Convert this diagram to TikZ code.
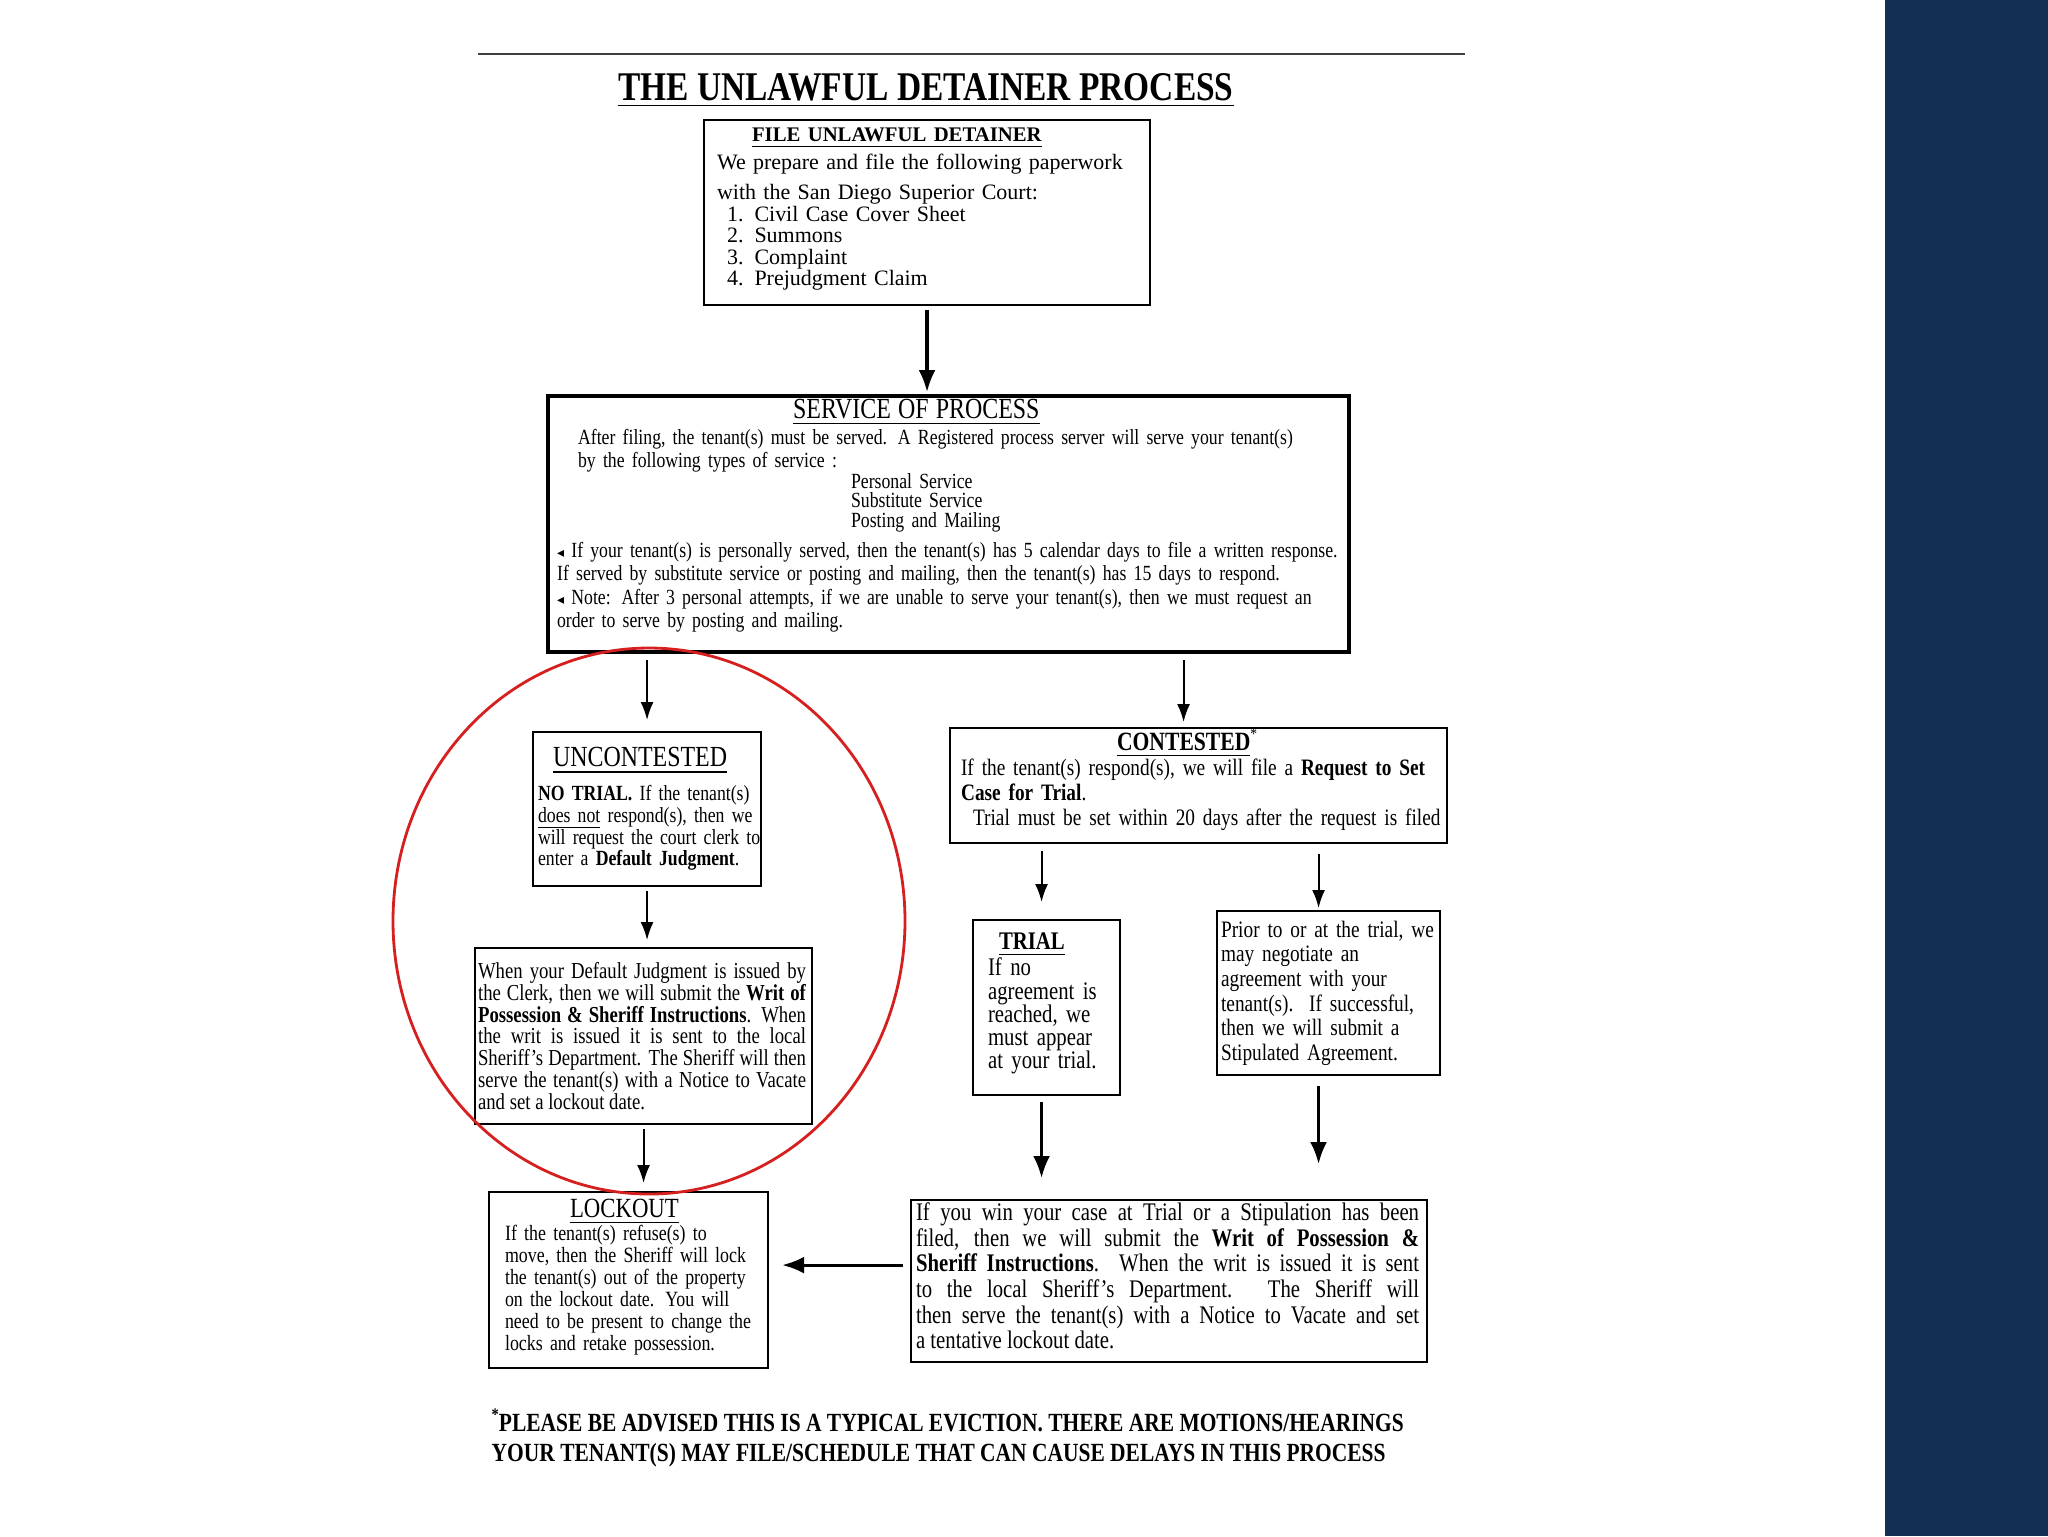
\documentclass[tikz,border=0pt]{standalone}
\usepackage{fontspec}
\setmainfont[FakeStretch=0.82]{Liberation Serif}
\newfontfamily\widefont{Liberation Serif}
\newfontfamily\symfont{DejaVu Sans}
\usetikzlibrary{positioning,arrows.meta}

\definecolor{navy}{RGB}{18,49,82}
\definecolor{circred}{RGB}{214,32,32}
\newcommand{\fsz}[2]{\fontsize{#1}{#2}\selectfont}
\newcommand{\tri}{{\symfont\fontsize{4}{4}\selectfont ◂}}

\tikzset{
  box/.style={draw, line width=0.6pt, anchor=north west, align=left, inner xsep=0pt, inner ysep=0pt},
  lpad/.style={execute at begin node={\leftskip=#1\relax\lineskiplimit=-5pt\relax}},
  lrpad/.style 2 args={execute at begin node={\leftskip=#1\relax\rightskip=#2\relax\lineskiplimit=-5pt\relax}},
  flow/.style={-{Latex[length=1.8mm,width=1.3mm]}, line width=0.55pt},
  bigflow/.style={-{Latex[length=2.2mm,width=1.7mm]}, line width=0.9pt},
}

\begin{document}
\begin{tikzpicture}[x=0.1mm,y=-0.1mm]
\fill[white] (0,0) rectangle (2048,1536);
\useasboundingbox (0,0) rectangle (2048,1536);
\fill[navy] (1885,0) rectangle (2048,1536);
\draw[line width=0.7pt, black!75] (478,54) -- (1465,54);

\node[anchor=base, inner sep=0pt, font=\fsz{11.6}{13}\bfseries] (title) at (926,100) {\underline{THE UNLAWFUL DETAINER PROCESS}};

% top of the flow
\node[box, lpad=1.3mm, minimum width=44.6mm, minimum height=18.5mm, text width=44.6mm, font=\widefont\fsz{6.25}{6.1}] (file) at (703,119) {%
\hspace*{3.5mm}\underline{\textbf{\fsz{5.9}{6.1}FILE UNLAWFUL DETAINER}}\\[0.7mm]
We prepare and file the following paperwork\\[0.85mm]
with the San Diego Superior Court:\\
\hspace*{1mm}1. Civil Case Cover Sheet\\
\hspace*{1mm}2. Summons\\
\hspace*{1mm}3. Complaint\\
\hspace*{1mm}4. Prejudgment Claim\par\kern0.7mm};

\node[box, lpad=0.9mm, line width=1.2pt, minimum width=80.1mm, minimum height=25.6mm, text width=80.1mm, font=\fsz{6.15}{6.7}] (serve) at (546,394) {%
\hspace*{23.6mm}\underline{\fsz{8.3}{6.7}SERVICE OF PROCESS}\\[0.25mm]
\hspace*{2.1mm}After filing, the tenant(s) must be served. A Registered process server will serve your tenant(s)\\
\hspace*{2.1mm}by the following types of service :\\[-0.3mm]
\hspace*{29.4mm}Personal Service\\[-0.4mm]
\hspace*{29.4mm}Substitute Service\\[-0.4mm]
\hspace*{29.4mm}Posting and Mailing\\[0.63mm]
\tri\ If your tenant(s) is personally served, then the tenant(s) has 5 calendar days to file a written response.\\
If served by substitute service or posting and mailing, then the tenant(s) has 15 days to respond.\\
\tri\ Note: After 3 personal attempts, if we are unable to serve your tenant(s), then we must request an\\
order to serve by posting and mailing.\par\kern1.7mm};

% uncontested side
\node[box, lpad=0.5mm, minimum width=22.8mm, minimum height=15.4mm, text width=22.8mm, font=\fsz{6.15}{6.2}] (unc) at (532,731) {%
\hspace*{1.5mm}\underline{\fsz{8.3}{6.2}UNCONTESTED}\\[1.2mm]
\textbf{NO TRIAL.} If the tenant(s)\\
\underline{does not} respond(s), then we\\
will request the court clerk to\\
enter a \textbf{Default Judgment}.};

\node[box, align=justify, lrpad={0.3mm}{0.6mm}, minimum width=33.7mm, minimum height=17.6mm, text width=33.7mm, font=\fsz{6.5}{6.2}] (def) at (474,947) {%
When your Default Judgment is issued by\linebreak
the Clerk, then we will submit the \textbf{Writ of}\linebreak
\textbf{Possession \& Sheriff Instructions}. When\linebreak
the writ is issued it is sent to the local\linebreak
Sheriff's Department. The Sheriff will then\linebreak
serve the tenant(s) with a Notice to Vacate\linebreak
and set a lockout date.};

\node[box, lpad=1.6mm, minimum width=27.9mm, minimum height=17.6mm, text width=27.9mm, font=\fsz{6.2}{6.3}] (lock) at (488,1191) {%
\hspace*{6.5mm}\underline{\fsz{7.9}{6.3}LOCKOUT}\\[0.1mm]
If the tenant(s) refuse(s) to\\
move, then the Sheriff will lock\\
the tenant(s) out of the property\\
on the lockout date. You will\\
need to be present to change the\\
locks and retake possession.\par\kern0.6mm};

% contested side
\node[box, lpad=1.1mm, minimum width=49.7mm, minimum height=11.5mm, text width=49.7mm, font=\fsz{6.7}{7.1}] (cont) at (949,727) {%
\hspace*{15.6mm}\underline{\fsz{7.5}{7.1}\textbf{CONTESTED}}\textsuperscript{*}\\
If the tenant(s) respond(s), we will file a \textbf{Request to Set}\\
\textbf{Case for Trial}.\\
\hspace*{1.2mm}Trial must be set within 20 days after the request is filed\par\kern1.2mm};

\node[box, lpad=1.5mm, minimum width=14.7mm, minimum height=17.5mm, text width=14.7mm, font=\fsz{7.2}{6.6}] (trial) at (972,919) {%
\hspace*{1.1mm}\underline{\textbf{TRIAL}}\\[0.3mm]
If no\\
agreement is\\
reached, we\\
must appear\\
at your trial.\par\kern0.8mm};

\node[box, lpad=0.4mm, minimum width=22.3mm, minimum height=16.4mm, text width=22.3mm, font=\fsz{6.7}{7}] (prior) at (1216,910) {%
Prior to or at the trial, we\\
may negotiate an\\
agreement with your\\
tenant(s).\ \ If successful,\\
then we will submit a\\
Stipulated Agreement.};

\node[box, align=justify, lrpad={0.5mm}{0.8mm}, minimum width=51.6mm, minimum height=16.2mm, text width=51.6mm, font=\fsz{7.2}{7.3}] (win) at (910,1199) {%
If you win your case at Trial or a Stipulation has been\linebreak
filed, then we will submit the \textbf{Writ of Possession \&}\linebreak
\textbf{Sheriff Instructions}. When the writ is issued it is sent\linebreak
to the local Sheriff's Department. The Sheriff will\linebreak
then serve the tenant(s) with a Notice to Vacate and set\linebreak
a tentative lockout date.\par\kern1mm};

\node[anchor=north west, align=left, inner sep=0pt, font=\fsz{7.45}{8.5}\bfseries] (note) at (491,1408) {%
\raisebox{0.9ex}{\fsz{5}{5}*}PLEASE BE ADVISED THIS IS A TYPICAL EVICTION. THERE ARE MOTIONS/HEARINGS\\
YOUR TENANT(S) MAY FILE/SCHEDULE THAT CAN CAUSE DELAYS IN THIS PROCESS};

% connectors
\draw[bigflow, shorten <=0.4mm, shorten >=0.2mm] (file.south) -- (file.south |- serve.north);
\draw[flow, shorten <=0.6mm, shorten >=1.1mm] (serve.south -| unc.north) -- (unc.north);
\draw[flow, shorten <=0.6mm, shorten >=0.5mm] ([xshift=-1.5mm]cont.north |- serve.south) -- ([xshift=-1.5mm]cont.north);
\draw[flow, shorten <=0.4mm, shorten >=0.7mm] (unc.south) -- (unc.south |- def.north);
\draw[flow, shorten <=0.4mm, shorten >=0.8mm] (def.south) -- (def.south |- lock.north);
\draw[flow, shorten <=0.7mm, shorten >=1.7mm] ([xshift=-0.5mm]trial.north |- cont.south) -- ([xshift=-0.5mm]trial.north);
\draw[flow, shorten <=1mm, shorten >=0.2mm] ([xshift=-1mm]prior.north |- cont.south) -- ([xshift=-1mm]prior.north);
\draw[bigflow, shorten <=0.6mm, shorten >=2.1mm] ([xshift=-0.5mm]trial.south) -- ([xshift=-0.5mm]trial.south |- win.north);
\draw[bigflow, shorten <=1mm, shorten >=3.5mm] ([xshift=-1mm]prior.south) -- ([xshift=-1mm]prior.south |- win.north);
\draw[bigflow, shorten <=0.7mm, shorten >=1.3mm] ([yshift=1.6mm]win.west) -- ([yshift=1.6mm]win.west -| lock.east);

% the ring round the uncontested branch
\draw[circred, line width=0.8pt] (649,921) ellipse [x radius=25.6mm, y radius=27.3mm];
\end{tikzpicture}
\end{document}
